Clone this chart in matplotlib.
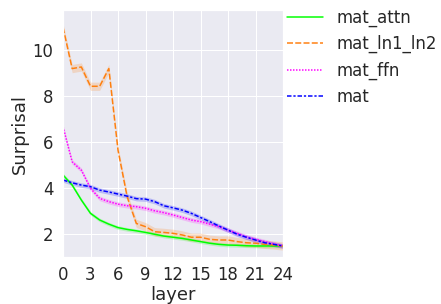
import matplotlib
matplotlib.use('Agg')
import matplotlib.pyplot as plt
import numpy as np
import seaborn as sns

layers = list(range(25))
mat_attn = [4.57, 4.13, 3.48, 2.90, 2.61, 2.43, 2.28, 2.20, 2.14, 2.07, 1.99, 1.91, 1.86,
            1.81, 1.74, 1.67, 1.60, 1.55, 1.52, 1.51, 1.49, 1.48, 1.48, 1.48, 1.48]
mat_ln1_ln2 = [11.0, 9.2, 9.27, 8.43, 8.43, 9.2, 5.65, 3.62, 2.46, 2.32, 2.10, 2.07, 2.03,
               1.96, 1.86, 1.86, 1.77, 1.74, 1.74, 1.67, 1.62, 1.60, 1.55, 1.52, 1.48]
mat_ffn = [6.67, 5.14, 4.78, 3.99, 3.55, 3.41, 3.30, 3.23, 3.19, 3.12, 3.01, 2.93, 2.83,
           2.72, 2.61, 2.54, 2.43, 2.32, 2.17, 2.03, 1.88, 1.77, 1.67, 1.57, 1.48]
mat = [4.35, 4.23, 4.13, 4.06, 3.91, 3.83, 3.74, 3.65, 3.54, 3.52, 3.41, 3.23, 3.14,
       3.04, 2.90, 2.72, 2.54, 2.35, 2.17, 1.99, 1.86, 1.74, 1.62, 1.55, 1.48]
# rough half-width of the confidence band for each series
ci_attn = 0.08
ci_ln = 0.18
ci_ffn = 0.1
ci_mat = 0.1

series = [('mat_attn', mat_attn, ci_attn, '#00ff00', ''),
          ('mat_ln1_ln2', mat_ln1_ln2, ci_ln, '#ff7f0e', (4, 1.5)),
          ('mat_ffn', mat_ffn, ci_ffn, '#ff00ff', (1, 1)),
          ('mat', mat, ci_mat, '#0000ff', (3, 1.25, 1.5, 1.25))]

sns.set_theme(style='darkgrid', font_scale=1.5)

fig = plt.figure(figsize=(441 / 72, 304 / 72), dpi=72)
ax = fig.add_axes([63 / 441, 47 / 304, 220 / 441, 247 / 304])

for name, vals, ci, color, dash in series:
    y = np.array(vals)
    line, = ax.plot(layers, y, color=color, label=name, lw=1.5)
    if dash:
        line.set_dashes(dash)
    ax.fill_between(layers, y - ci, y + ci, color=color, alpha=0.2, lw=0)

ax.set_xlim(0, 24)
ax.set_ylim(1.0, 11.75)
ax.set_xticks(range(0, 25, 3))
ax.set_yticks([2, 4, 6, 8, 10])
ax.set_xlabel('layer', labelpad=2)
ax.set_ylabel('Surprisal')

fig.legend(loc='upper left', bbox_to_anchor=(280 / 441, 1 - 2 / 304), frameon=False,
           handlelength=2.2, handletextpad=0.8, borderaxespad=0)

fig.savefig('out.png', dpi=72)
